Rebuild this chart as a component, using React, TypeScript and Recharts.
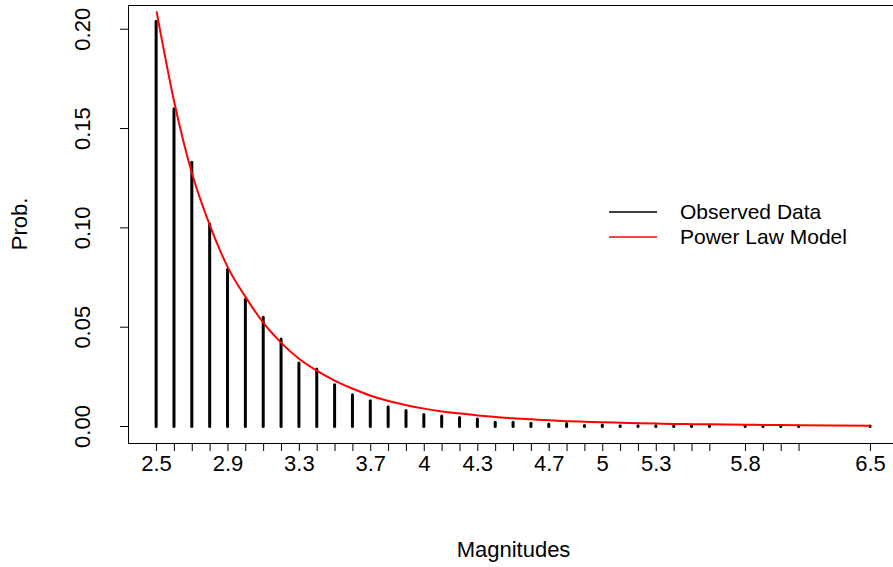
import { ComposedChart, Bar, Line, XAxis, YAxis, Label } from 'recharts';

// magnitude bins (x positions)
const magnitudes = [
  2.5, 2.6, 2.7, 2.8, 2.9, 3.0, 3.1, 3.2, 3.3, 3.4, 3.5, 3.6, 3.7, 3.8, 3.9, 4.0,
  4.1, 4.2, 4.3, 4.4, 4.5, 4.6, 4.7, 4.8, 4.9, 5.0, 5.1, 5.2, 5.3, 5.4, 5.5, 5.6,
  5.8, 5.9, 6.0, 6.1, 6.5,
];

// observed probabilities (vertical lines)
const observed = [
  0.204, 0.160, 0.133, 0.102, 0.079, 0.064, 0.055, 0.044, 0.032, 0.029, 0.021, 0.016,
  0.013, 0.010, 0.008, 0.006, 0.0053, 0.0045, 0.0038, 0.0022, 0.0022, 0.0016, 0.0013,
  0.0015, 0.0005, 0.0007, 0.0004, 0.0004, 0.0004, 0.0004, 0.0004, 0.0004,
  0.0002, 0.0002, 0.0002, 0.0002, 0.0002,
];

// fitted power law curve
const model = [
  0.209, 0.163, 0.127, 0.101, 0.080, 0.065, 0.052, 0.042, 0.034, 0.028, 0.023, 0.019,
  0.0155, 0.0128, 0.0107, 0.0090, 0.0076, 0.0065, 0.0056, 0.0048, 0.0041, 0.0036, 0.0031,
  0.0027, 0.0024, 0.0021, 0.0019, 0.0017, 0.0015, 0.0013, 0.0012, 0.0011,
  0.0009, 0.0008, 0.0007, 0.0006, 0.0004,
];

const xLabels = [2.5, 2.9, 3.3, 3.7, 4, 4.3, 4.7, 5, 5.3, 5.8, 6.5];
const yTicks = [0, 0.05, 0.1, 0.15, 0.2];

const data = magnitudes.map((m, i) => ({ m, observed: observed[i], model: model[i] }));

const FONT = '"Liberation Sans", Arial, sans-serif';
const FS = 22;

const HLine = (props: any) => {
  const { x, y, width, height } = props;
  const cx = x + width / 2;
  return (
    <line x1={cx} y1={y} x2={cx} y2={y + height} stroke="#000" strokeWidth={3} strokeLinecap="round" />
  );
};

const XTick = (props: any) => {
  const { x, y, payload } = props;
  if (!xLabels.includes(payload.value)) return null;
  return (
    <text x={x} y={y} dy="0.71em" textAnchor="middle" fontSize={FS} fontFamily={FONT} fill="#000">
      {String(payload.value)}
    </text>
  );
};

const YTick = (props: any) => {
  const { x, y, payload } = props;
  return (
    <text x={x} y={y} transform={`rotate(-90, ${x}, ${y})`} textAnchor="middle" fontSize={FS} fontFamily={FONT} fill="#000">
      {payload.value.toFixed(2)}
    </text>
  );
};

export default function App() {
  return (
    <div style={{ position: 'absolute', left: 0, top: 0, width: 893, height: 567, overflow: 'hidden', background: '#fff' }}>
      <ComposedChart width={900} height={567} data={data} margin={{ top: 5, right: 1, bottom: 0, left: 0 }}>
        <XAxis
          dataKey="m"
          type="number"
          domain={[2.34, 6.66]}
          ticks={magnitudes}
          interval={0}
          allowDataOverflow
          height={124}
          axisLine={false}
          tickLine={{ stroke: '#000', strokeWidth: 1 }}
          tickSize={8}
          tickMargin={4}
          tick={<XTick />}
        >
          <Label value="Magnitudes" position="insideBottom" offset={10} fontSize={FS} fontFamily={FONT} fill="#000" />
        </XAxis>
        <YAxis
          type="number"
          domain={[-0.0083, 0.2122]}
          ticks={yTicks}
          interval={0}
          allowDataOverflow
          width={128}
          axisLine={false}
          tickLine={{ stroke: '#000', strokeWidth: 1 }}
          tickSize={8}
          tickMargin={30}
          tick={<YTick />}
        >
          <Label
            content={(p: any) => {
              const vb = p.viewBox;
              const cy = vb.y + vb.height / 2;
              return (
                <text x={27} y={cy} transform={`rotate(-90, 27, ${cy})`} textAnchor="middle" fontSize={FS} fontFamily={FONT} fill="#000">
                  Prob.
                </text>
              );
            }}
          />
        </YAxis>
        <Bar dataKey="observed" barSize={3} shape={<HLine />} isAnimationActive={false} />
        <Line dataKey="model" type="monotone" stroke="#ff0000" strokeWidth={2} dot={false} isAnimationActive={false} />
      </ComposedChart>
      {/* plot frame */}
      <div
        style={{
          position: 'absolute',
          left: 128,
          top: 5,
          width: 771,
          height: 439,
          border: '1px solid #000',
          boxSizing: 'border-box',
          pointerEvents: 'none',
        }}
      />
      {/* legend */}
      <svg width={300} height={60} style={{ position: 'absolute', left: 600, top: 195 }}>
        <line x1={9} y1={17} x2={57} y2={17} stroke="#000" strokeWidth={1.5} />
        <text x={80} y={24} fontSize={21} fontFamily={FONT} fill="#000">Observed Data</text>
        <line x1={9} y1={42} x2={57} y2={42} stroke="#ff0000" strokeWidth={1.5} />
        <text x={80} y={49} fontSize={21} fontFamily={FONT} fill="#000">Power Law Model</text>
      </svg>
    </div>
  );
}
